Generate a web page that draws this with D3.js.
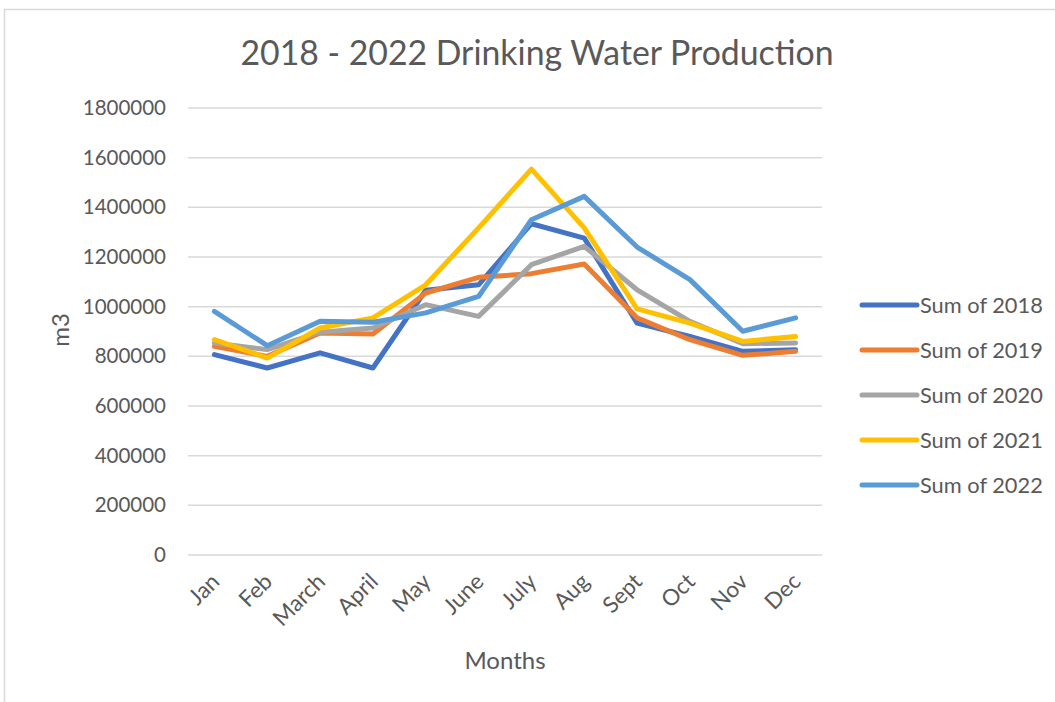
<!DOCTYPE html>
<html>
<head>
<meta charset="utf-8">
<script src="https://cdn.jsdelivr.net/npm/d3@7"></script>
<style>
  body { margin: 0; background: #fff; }
  text { font-family: Lato, "Open Sans", sans-serif; fill: #595959; }
</style>
</head>
<body>
<div id="chart"></div>
<script>
// Chart data
const months = ['Jan', 'Feb', 'March', 'April', 'May', 'June', 'July', 'Aug', 'Sept', 'Oct', 'Nov', 'Dec'];
const yTicks = [0, 200000, 400000, 600000, 800000, 1000000, 1200000, 1400000, 1600000, 1800000];
const seriesNames = ['Sum of 2018', 'Sum of 2019', 'Sum of 2020', 'Sum of 2021', 'Sum of 2022'];
const values2018 = [807000, 753000, 814000, 753000, 1066000, 1088000, 1334000, 1276000, 934000, 880000, 820000, 827000];
const values2019 = [840000, 800000, 894000, 890000, 1055000, 1118000, 1133000, 1172000, 955000, 867000, 804000, 820000];
const values2020 = [854000, 827000, 897000, 914000, 1008000, 961000, 1169000, 1243000, 1068000, 941000, 851000, 854000];
const values2021 = [867000, 793000, 914000, 955000, 1088000, 1317000, 1554000, 1317000, 991000, 934000, 860000, 880000];
const values2022 = [981000, 843000, 941000, 937000, 975000, 1041000, 1350000, 1444000, 1240000, 1109000, 901000, 955000];
const colors = ['#4472C4', '#ED7D31', '#A5A5A5', '#FFC000', '#5B9BD5'];

const allSeries = [values2018, values2019, values2020, values2021, values2022];

const width = 1055;
const height = 702;
const margin = { top: 108, right: 233, bottom: 147, left: 188 };

const svg = d3.select('#chart')
    .append('svg')
    .attr('width', width)
    .attr('height', height);

// Outer chart border (only top and left visible)
svg.append('path')
    .attr('d', `M4.5,${height} V9.5 H${width}`)
    .attr('fill', 'none')
    .attr('stroke', '#d9d9d9')
    .attr('stroke-width', 1.5);

const x = d3.scalePoint()
    .domain(months)
    .range([margin.left, width - margin.right])
    .padding(0.5);

const y = d3.scaleLinear()
    .domain([0, 1800000])
    .range([height - margin.bottom, margin.top]);

// Gridlines
svg.append('g')
    .selectAll('line')
    .data(yTicks)
    .enter()
    .append('line')
    .attr('x1', margin.left)
    .attr('x2', width - margin.right)
    .attr('y1', d => y(d))
    .attr('y2', d => y(d))
    .attr('stroke', '#d9d9d9')
    .attr('stroke-width', 1.5);

// Y axis labels
const yAxis = svg.append('g')
    .attr('transform', `translate(${margin.left - 22},0)`)
    .call(d3.axisLeft(y).tickValues(yTicks).tickSize(0).tickFormat(d3.format('d')));
yAxis.select('.domain').remove();
yAxis.selectAll('text')
    .attr('x', 0)
    .style('font-size', '20.5px')
    .style('fill', '#595959');

// X axis labels
const xAxis = svg.append('g')
    .attr('transform', `translate(0,${height - margin.bottom})`)
    .call(d3.axisBottom(x).tickSize(0));
xAxis.select('.domain').remove();
xAxis.selectAll('text')
    .style('font-size', '22.5px')
    .style('fill', '#595959')
    .attr('text-anchor', 'end')
    .attr('y', 0)
    .attr('dy', 0)
    .attr('transform', 'translate(6,28) rotate(-45)');

// Lines
const line = d3.line()
    .x((d, i) => x(months[i]))
    .y(d => y(d));

svg.append('g')
    .selectAll('path')
    .data(allSeries)
    .enter()
    .append('path')
    .attr('d', line)
    .attr('fill', 'none')
    .attr('stroke', (d, i) => colors[i])
    .attr('stroke-width', 5)
    .attr('stroke-linejoin', 'round')
    .attr('stroke-linecap', 'round');

// Title
svg.append('text')
    .attr('x', 537)
    .attr('y', 65)
    .attr('text-anchor', 'middle')
    .style('font-size', '33.8px')
    .text('2018 - 2022 Drinking Water Production');

// Axis titles
svg.append('text')
    .attr('transform', 'translate(69,330) rotate(-90)')
    .attr('text-anchor', 'middle')
    .style('font-size', '24px')
    .text('m3');

svg.append('text')
    .attr('x', 505)
    .attr('y', 669)
    .attr('text-anchor', 'middle')
    .style('font-size', '24px')
    .text('Months');

// Legend
const legend = svg.append('g')
    .selectAll('g')
    .data(seriesNames)
    .enter()
    .append('g')
    .attr('transform', (d, i) => `translate(862,${305 + i * 45})`);

legend.append('line')
    .attr('x1', 0)
    .attr('x2', 55)
    .attr('stroke', (d, i) => colors[i])
    .attr('stroke-width', 5)
    .attr('stroke-linecap', 'round');

legend.append('text')
    .attr('x', 58)
    .attr('y', 7.5)
    .style('font-size', '21.8px')
    .text(d => d);
</script>
</body>
</html>
